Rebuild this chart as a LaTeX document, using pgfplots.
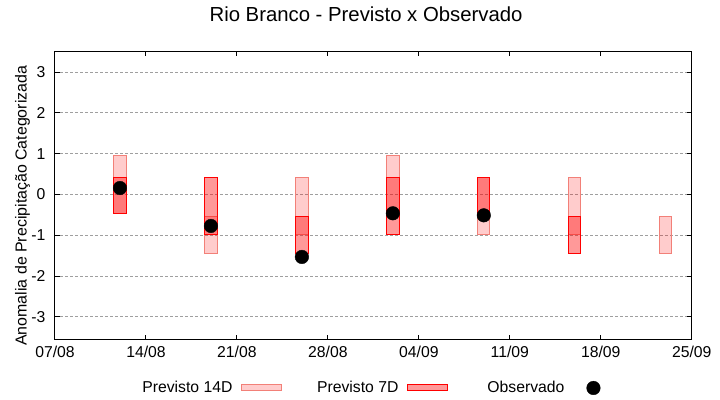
\documentclass[border=0pt]{standalone}
\usepackage{fontspec}
\setmainfont{Liberation Sans}
\usepackage{pgfplots}
\pgfplotsset{compat=1.18}
\definecolor{c14}{RGB}{242,128,120}
\pgfplotsset{
  bar14/.style={draw=c14, fill=red, fill opacity=0.2, line width=1bp, mark=none,
    legend image code/.code={\draw[##1] (0bp,-3bp) rectangle (40bp,3bp);}},
  bar7/.style={draw=red, fill=red, fill opacity=0.4, line width=1bp, mark=none,
    legend image code/.code={\draw[##1] (0bp,-3bp) rectangle (40bp,3bp);}},
  obs/.style={only marks, mark=*, mark size=6.8bp, black,
    legend image code/.code={\path[draw=none,fill=none] (0bp,-3bp) rectangle (40bp,3bp);\draw[mark repeat=2,mark phase=2,##1] plot coordinates {(0bp,0bp) (20bp,0bp) (40bp,0bp)};}},
}
\begin{document}
\begin{tikzpicture}
\path[use as bounding box] (0,0) rectangle (720bp,400bp);
\begin{axis}[
  at={(55bp,60.7bp)}, anchor=south west,
  scale only axis, width=636.7bp, height=288.3bp,
  xmin=0, xmax=49, ymin=-3.55, ymax=3.52,
  xtick={0,7,14,21,28,35,42,49},
  xticklabels={07/08,14/08,21/08,28/08,04/09,11/09,18/09,25/09},
  ytick={-3,-2,-1,0,1,2,3},
  yticklabels={-3,-2,-1,0,1,2,3},
  tick align=inside, major tick length=4.5bp,
  tick style={black, line width=1bp},
  axis line style={black, line width=1bp},
  ymajorgrids,
  grid style={dash pattern=on 2.5bp off 2.5bp, color=gray!75, line width=1bp},
  every tick label/.append style={font=\fontsize{15.8}{19}\selectfont, inner sep=0pt},
  xticklabel style={yshift=-6.4bp},
  yticklabel style={xshift=-9.4bp},
  title={Rio Branco - Previsto x Observado},
  title style={at={(axis description cs:0.4885,1.0822)}, anchor=base, font=\fontsize{20.4}{24}\selectfont, inner sep=0pt},
  ylabel={Anomalia de Precipitação Categorizada},
  ylabel style={at={(axis description cs:-0.0444,0.4634)}, anchor=base, font=\fontsize{16}{19}\selectfont, inner sep=0pt},
  legend columns=3, legend plot pos=right,
  legend style={draw=none, fill=none, at={(axis description cs:0.4994,-0.1689)}, anchor=center,
    font=\fontsize{15.8}{19}\selectfont, nodes={inner sep=0pt},
    /tikz/every odd column/.append style={column sep=9bp},
    /tikz/every even column/.append style={column sep=16bp}},
]
% Previsto 14D
\addplot[bar14] coordinates {(4.525,-0.46) (5.475,-0.46) (5.475,0.95) (4.525,0.95)} -- cycle;
\addlegendentry{\makebox[100bp][r]{Previsto 14D}}
\addplot[bar14, forget plot] coordinates {(11.525,-1.45) (12.475,-1.45) (12.475,-0.53) (11.525,-0.53)} -- cycle;
\addplot[bar14, forget plot] coordinates {(18.525,-0.97) (19.475,-0.97) (19.475,0.43) (18.525,0.43)} -- cycle;
\addplot[bar14, forget plot] coordinates {(25.525,-0.46) (26.475,-0.46) (26.475,0.95) (25.525,0.95)} -- cycle;
\addplot[bar14, forget plot] coordinates {(32.525,-0.97) (33.475,-0.97) (33.475,0.43) (32.525,0.43)} -- cycle;
\addplot[bar14, forget plot] coordinates {(39.525,-0.97) (40.475,-0.97) (40.475,0.43) (39.525,0.43)} -- cycle;
\addplot[bar14, forget plot] coordinates {(46.525,-1.45) (47.475,-1.45) (47.475,-0.53) (46.525,-0.53)} -- cycle;
% Previsto 7D
\addplot[bar7] coordinates {(4.525,-0.46) (5.475,-0.46) (5.475,0.43) (4.525,0.43)} -- cycle;
\addlegendentry{\makebox[100bp][r]{Previsto 7D}}
\addplot[bar7, forget plot] coordinates {(11.525,-0.97) (12.475,-0.97) (12.475,0.43) (11.525,0.43)} -- cycle;
\addplot[bar7, forget plot] coordinates {(18.525,-1.45) (19.475,-1.45) (19.475,-0.53) (18.525,-0.53)} -- cycle;
\addplot[bar7, forget plot] coordinates {(25.525,-0.97) (26.475,-0.97) (26.475,0.43) (25.525,0.43)} -- cycle;
\addplot[bar7, forget plot] coordinates {(32.525,-0.46) (33.475,-0.46) (33.475,0.43) (32.525,0.43)} -- cycle;
\addplot[bar7, forget plot] coordinates {(39.525,-1.45) (40.475,-1.45) (40.475,-0.53) (39.525,-0.53)} -- cycle;
% Observado
\addplot[obs] coordinates {(5,0.16) (12,-0.77) (19,-1.53) (26,-0.46) (33,-0.51)};
\addlegendentry{\makebox[100bp][r]{Observado}}
\end{axis}
\end{tikzpicture}
\end{document}
